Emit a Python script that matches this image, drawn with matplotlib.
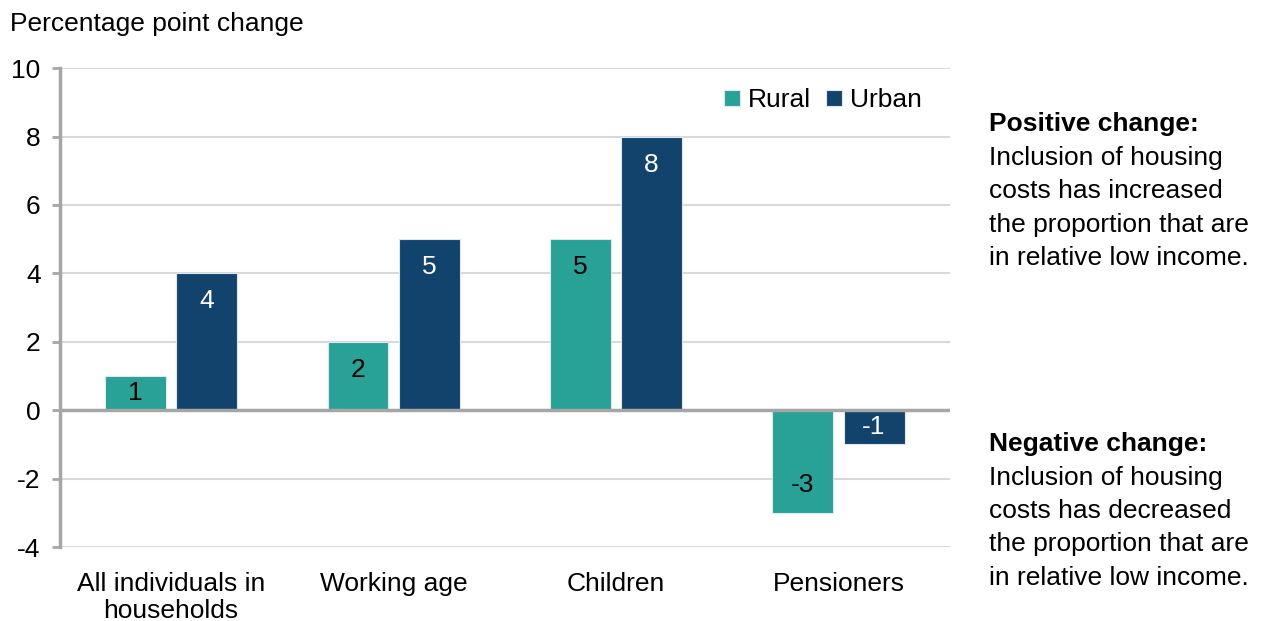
import numpy as np
import matplotlib.pyplot as plt

plt.rcParams['font.family'] = ['Liberation Sans', 'DejaVu Sans']
plt.rcParams['axes.unicode_minus'] = False

groups = ['All individuals in\nhouseholds', 'Working age', 'Children', 'Pensioners']
rural = [1, 2, 5, -3]
urban = [4, 5, 8, -1]

teal = '#28A197'
navy = '#12436D'
grey = '#A6A6A6'
fs = 19

fig = plt.figure(figsize=(12.62, 6.21), dpi=100)
ax = fig.add_axes([0.0475, 0.119, 0.705, 0.7713])

x = np.arange(len(groups))
w = 0.274
off = 0.16
b1 = ax.bar(x - off, rural, w, color=teal, edgecolor='#DDE8EE', linewidth=0.8, label='Rural', zorder=3)
b2 = ax.bar(x + off, urban, w, color=navy, edgecolor='#DDE8EE', linewidth=0.8, label='Urban', zorder=3)

# value labels inside the bar ends (centre clamped to bar middle for short bars)
for bars, vals, col in [(b1, rural, 'black'), (b2, urban, 'white')]:
    for r, v in zip(bars, vals):
        d = min(0.82, abs(v) / 2)
        y = v - d if v > 0 else v + d
        ax.text(r.get_x() + r.get_width() / 2, y, str(v), ha='center', va='center',
                fontsize=fs, color=col, zorder=4)

ax.set_xlim(-0.5, 3.5)
ax.set_ylim(-4, 10)
ax.set_yticks(range(-4, 11, 2))
ax.set_xticks(x)
ax.set_xticklabels(groups, fontsize=fs, linespacing=1.15)
ax.tick_params(axis='y', labelsize=fs, length=6, width=2, color=grey, direction='out', pad=8)
ax.tick_params(axis='x', length=0, pad=18)
ax.grid(axis='y', color='#D9D9D9', linewidth=1.5, zorder=0)
ax.axhline(0, color=grey, linewidth=2.5, zorder=3.5)
for s in ['top', 'right', 'bottom']:
    ax.spines[s].set_visible(False)
ax.spines['left'].set_color(grey)
ax.spines['left'].set_linewidth(2.5)

ax.legend(loc='center right', bbox_to_anchor=(0.969, 0.933), frameon=False, fontsize=fs,
          handlelength=0.6, handleheight=0.6, handletextpad=0.3, columnspacing=0.6, ncol=2,
          borderpad=0, borderaxespad=0)

fig.text(0.008, 1 - 24 / 621, 'Percentage point change', fontsize=fs, va='center', ha='left')

pos_lines = ['Inclusion of housing', 'costs has increased', 'the proportion that are', 'in relative low income.']
neg_lines = ['Inclusion of housing', 'costs has decreased', 'the proportion that are', 'in relative low income.']
tx = 989 / 1262
for head, lines, y0 in [('Positive change:', pos_lines, 124), ('Negative change:', neg_lines, 444)]:
    fig.text(tx, 1 - y0 / 621, head, fontsize=fs, fontweight='bold', va='center')
    for i, line in enumerate(lines):
        fig.text(tx, 1 - (y0 + 33.5 * (i + 1)) / 621, line, fontsize=fs, va='center')

fig.savefig('out.png', dpi=100)
